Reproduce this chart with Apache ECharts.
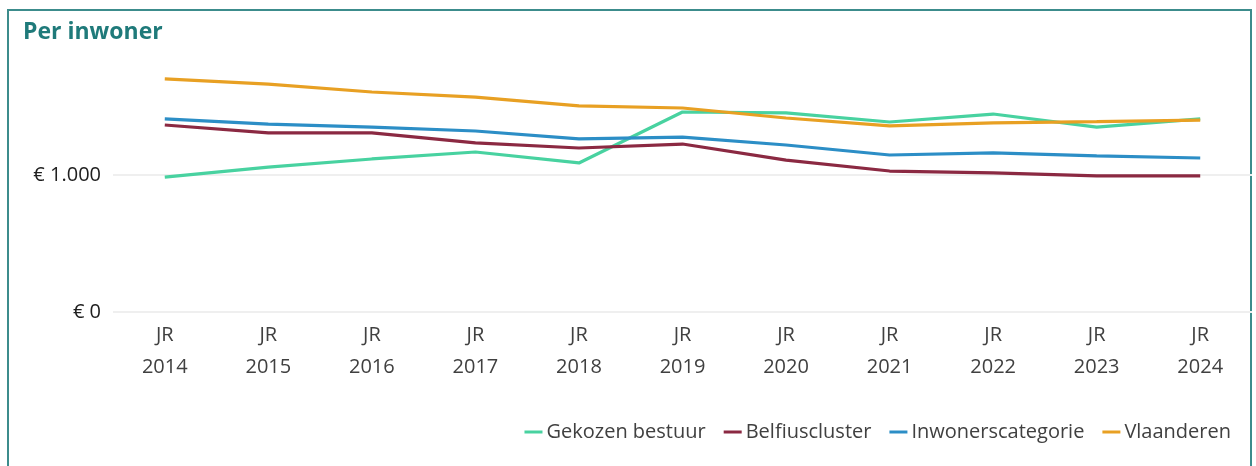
<!DOCTYPE html>
<html>
<head>
<meta charset="utf-8">
<script src="https://cdn.jsdelivr.net/npm/echarts@6/dist/echarts.min.js"></script>
<style>
  html, body { margin: 0; padding: 0; background: #fff; }
  #wrap { position: relative; width: 1256px; height: 466px; overflow: hidden; }
  #frame { position: absolute; left: 7px; top: 9px; width: 1245px; height: 470px; border: 2px solid #3c8c8c; box-sizing: border-box; }
  #chart { position: absolute; left: 0; top: 0; width: 1256px; height: 466px; }
</style>
</head>
<body>
<div id="wrap">
  <div id="frame"></div>
  <div id="chart"></div>
</div>
<script>
// jaren
var categories = ['JR\n2014', 'JR\n2015', 'JR\n2016', 'JR\n2017', 'JR\n2018', 'JR\n2019', 'JR\n2020', 'JR\n2021', 'JR\n2022', 'JR\n2023', 'JR\n2024']
var gekozenBestuur = [985, 1058, 1117, 1168, 1088, 1460, 1453, 1387, 1445, 1350, 1409]
var belfiuscluster = [1365, 1307, 1307, 1234, 1197, 1226, 1109, 1029, 1015, 993, 993]
var inwonerscategorie = [1409, 1372, 1350, 1321, 1263, 1277, 1219, 1146, 1161, 1139, 1124]
var vlaanderen = [1701, 1664, 1606, 1569, 1504, 1489, 1416, 1358, 1380, 1389, 1401]
var yTicks = [0, 1000, 2000]

var myChart = echarts.init(document.getElementById('chart'))
var font = '"Open Sans", "Noto Sans", sans-serif'

function lineSerie(name, data, color) {
  return {
    name: name,
    type: 'line',
    data: data,
    symbol: 'none',
    smooth: false,
    lineStyle: { color: color, width: 3.2 },
    itemStyle: { color: color }
  }
}

var option = {
  animation: false,
  textStyle: { fontFamily: font },
  title: {
    text: 'Per inwoner',
    left: 18,
    top: 16,
    textStyle: { color: '#1f7a7a', fontSize: 23, fontWeight: 'bold', fontFamily: font }
  },
  grid: { left: 113, right: 4, top: 312 - 2000 * 0.137, bottom: 466 - 312, containLabel: false },
  legend: {
    right: 20,
    top: 417,
    icon: 'rect',
    itemWidth: 18,
    itemHeight: 3,
    itemGap: 18,
    textStyle: { color: '#404040', fontSize: 20, fontFamily: font, padding: [0, 0, 0, -1] },
    data: ['Gekozen bestuur', 'Belfiuscluster', 'Inwonerscategorie', 'Vlaanderen']
  },
  xAxis: {
    type: 'category',
    data: categories,
    boundaryGap: true,
    axisLine: { show: false },
    axisTick: { show: false },
    axisLabel: { color: '#404040', fontSize: 20, lineHeight: 32, margin: 7, fontFamily: font }
  },
  yAxis: {
    type: 'value',
    min: yTicks[0],
    max: yTicks[2],
    interval: 1000,
    axisLine: { show: false },
    axisTick: { show: false },
    axisLabel: {
      color: '#202020',
      fontSize: 20,
      margin: 12,
      fontFamily: font,
      showMaxLabel: false,
      formatter: function (v) {
        return v === 0 ? '€ 0' : '€ ' + v.toLocaleString('nl-BE')
      }
    },
    splitLine: { lineStyle: { color: ['#efefef', '#efefef', 'rgba(0,0,0,0)'], width: 2 } }
  },
  series: [
    lineSerie('Gekozen bestuur', gekozenBestuur, '#48d2a0'),
    lineSerie('Belfiuscluster', belfiuscluster, '#8b2942'),
    lineSerie('Inwonerscategorie', inwonerscategorie, '#2c8ec6'),
    lineSerie('Vlaanderen', vlaanderen, '#e8a023')
  ]
}
myChart.setOption(option)
</script>
</body>
</html>
